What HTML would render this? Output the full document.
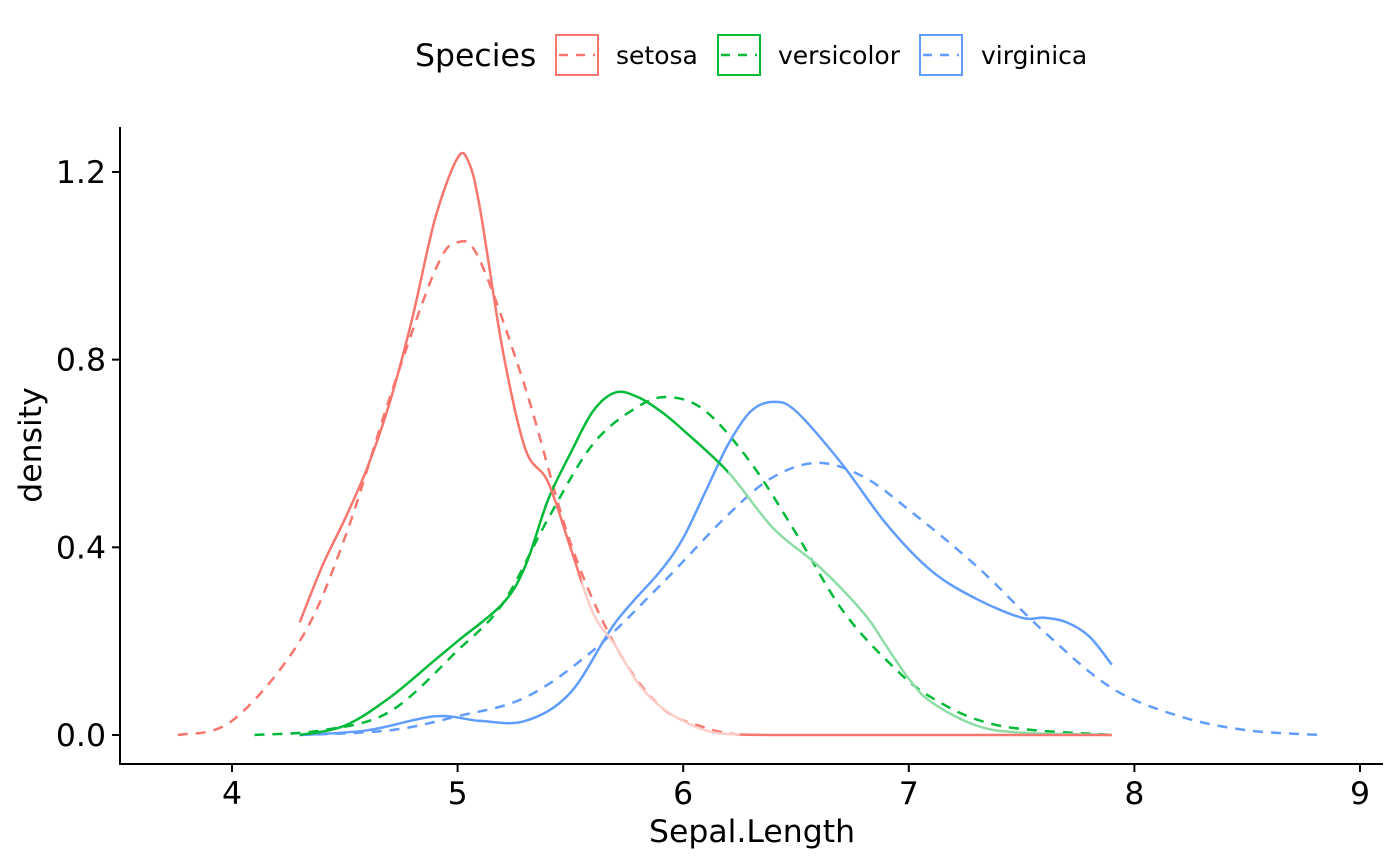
<!DOCTYPE html>
<html><head><meta charset="utf-8"><style>
html,body{margin:0;padding:0;background:#fff;}
svg{display:block;font-family:"DejaVu Sans","Liberation Sans",sans-serif;}
</style></head><body>
<svg id="chart" width="1400" height="866" viewBox="0 0 1400 866">
  <g id="legend">
    <text x="415" y="66" font-size="31.5">Species</text>
    <g>
      <rect x="556" y="35" width="42" height="40" fill="none" stroke="#F8766D" stroke-width="2"/>
      <line x1="559" y1="55" x2="595" y2="55" stroke="#F8766D" stroke-width="2.5" stroke-dasharray="9,8"/>
      <text x="616" y="64" font-size="25">setosa</text>
    </g>
    <g>
      <rect x="718" y="35" width="42" height="40" fill="none" stroke="#00BA38" stroke-width="2"/>
      <line x1="721" y1="55" x2="757" y2="55" stroke="#00BA38" stroke-width="2.5" stroke-dasharray="9,8"/>
      <text x="778" y="64" font-size="25">versicolor</text>
    </g>
    <g>
      <rect x="920" y="35" width="42" height="40" fill="none" stroke="#619CFF" stroke-width="2"/>
      <line x1="923" y1="55" x2="959" y2="55" stroke="#619CFF" stroke-width="2.5" stroke-dasharray="9,8"/>
      <text x="981" y="64" font-size="25">virginica</text>
    </g>
  </g>
  <g id="plot"></g>
  <g id="axes"></g>
  <text x="752" y="842" font-size="31.5" text-anchor="middle">Sepal.Length</text>
  <text transform="translate(41,445) rotate(-90)" font-size="31.5" text-anchor="middle">density</text>
</svg>
<script>
const xTicks = [4,5,6,7,8,9];
const yTicks = [0.0,0.4,0.8,1.2];
const yTickLabels = ["0.0","0.4","0.8","1.2"];
const setosaSolidX = [4.3,4.4,4.5,4.6,4.7,4.8,4.9,5.0,5.05,5.1,5.2,5.3,5.4,5.5,5.6,5.7,5.8,5.9,6.0,6.1,6.2,6.4,7.0,7.9];
const setosaSolidY = [0.24,0.36,0.46,0.57,0.71,0.89,1.10,1.23,1.22,1.12,0.82,0.61,0.54,0.40,0.26,0.19,0.11,0.06,0.03,0.01,0.002,0,0,0];
const setosaNormX = [3.76,4.0,4.3,4.5,4.7,4.9,5.0,5.1,5.3,5.5,5.7,5.9,6.1,6.25];
const setosaNormY = [0,0.03,0.2,0.42,0.72,0.99,1.05,1.01,0.74,0.41,0.19,0.06,0.015,0];
const versiSolidX = [4.3,4.5,4.7,4.9,5.0,5.2,5.3,5.4,5.5,5.6,5.7,5.8,5.9,6.0,6.2,6.4,6.6,6.8,6.9,7.0,7.1,7.3,7.5,7.9];
const versiSolidY = [0,0.02,0.08,0.16,0.2,0.28,0.36,0.5,0.6,0.69,0.73,0.72,0.69,0.65,0.56,0.44,0.36,0.26,0.19,0.12,0.07,0.02,0.005,0];
const versiNormX = [4.1,4.4,4.7,5.0,5.2,5.4,5.6,5.8,5.94,6.1,6.3,6.5,6.7,6.9,7.1,7.4,7.9];
const versiNormY = [0,0.01,0.05,0.18,0.28,0.46,0.62,0.70,0.72,0.69,0.58,0.43,0.27,0.16,0.08,0.02,0];
const virgSolidX = [4.3,4.6,4.9,5.1,5.3,5.5,5.7,5.9,6.0,6.1,6.2,6.3,6.4,6.5,6.7,6.9,7.1,7.3,7.5,7.6,7.7,7.8,7.9];
const virgSolidY = [0,0.01,0.04,0.03,0.03,0.09,0.24,0.35,0.42,0.52,0.62,0.69,0.71,0.69,0.58,0.45,0.35,0.29,0.25,0.25,0.24,0.21,0.15];
const virgNormX = [4.3,4.7,5.0,5.3,5.6,5.9,6.2,6.4,6.6,6.8,7.0,7.3,7.6,7.9,8.2,8.5,8.83];
const virgNormY = [0,0.01,0.04,0.08,0.18,0.32,0.47,0.55,0.58,0.55,0.48,0.36,0.22,0.1,0.04,0.01,0];

const NS="http://www.w3.org/2000/svg";
const xs = v => 232 + (v-4)*225.6;
const ys = v => 735 - v*469.2;
const plot=document.getElementById('plot'), axes=document.getElementById('axes'), svg=document.getElementById('chart');
function mk(t,a,p){const e=document.createElementNS(NS,t);for(const k in a)e.setAttribute(k,a[k]);(p||plot).appendChild(e);return e;}
function pathD(X,Y){
  const P=X.map((x,i)=>[xs(x),ys(Y[i])]);
  let d="M"+P[0][0]+","+P[0][1];
  for(let i=0;i<P.length-1;i++){
    const p0=P[Math.max(0,i-1)],p1=P[i],p2=P[i+1],p3=P[Math.min(P.length-1,i+2)];
    const c1=[p1[0]+(p2[0]-p0[0])/6,p1[1]+(p2[1]-p0[1])/6];
    const c2=[p2[0]-(p3[0]-p1[0])/6,p2[1]-(p3[1]-p1[1])/6];
    d+=" C"+c1[0]+","+c1[1]+" "+c2[0]+","+c2[1]+" "+p2[0]+","+p2[1];
  }
  return d;
}
const defs=mk('defs',{},svg);
function clip(id,x0,x1){const c=mk('clipPath',{id:id},defs);mk('rect',{x:xs(x0),y:0,width:xs(x1)-xs(x0),height:866},c);}
clip('sN1',3,5.55);clip('sF',5.55,6.25);clip('sN2',6.25,10);
clip('vN',3,6.2);clip('vF',6.2,7.9);
const lines=[
 [setosaNormX,setosaNormY,'#F8766D',true,null,'setosa-normal-line'],
 [versiNormX,versiNormY,'#00BA38',true,null,'versicolor-normal-line'],
 [virgNormX,virgNormY,'#619CFF',true,null,'virginica-normal-line'],
 [virgSolidX,virgSolidY,'#619CFF',false,null,'virginica-density-line'],
 [versiSolidX,versiSolidY,'#00BA38',false,'vN','versicolor-density-line'],
 [versiSolidX,versiSolidY,'#8EDDA6',false,'vF','versicolor-density-line-tail'],
 [setosaSolidX,setosaSolidY,'#F8766D',false,'sN1','setosa-density-line'],
 [setosaSolidX,setosaSolidY,'#FCCDC9',false,'sF','setosa-density-line-tail'],
 [setosaSolidX,setosaSolidY,'#F8766D',false,'sN2','setosa-density-line-zero'],
];
lines.forEach(L=>{
  const a={d:pathD(L[0],L[1]),fill:'none',stroke:L[2],'stroke-width':2.5};
  if(L[3])a['stroke-dasharray']='10,8';
  if(L[4])a['clip-path']='url(#'+L[4]+')';
  const e=mk('path',a);
  
  
});
mk('line',{x1:120,y1:127,x2:120,y2:765,stroke:'#000','stroke-width':2},axes);
mk('line',{x1:119,y1:764,x2:1383,y2:764,stroke:'#000','stroke-width':2},axes);
xTicks.forEach(t=>{
  mk('line',{x1:xs(t),y1:764,x2:xs(t),y2:772,stroke:'#000','stroke-width':2},axes);
  const e=mk('text',{x:xs(t),y:804,'font-size':31.5,'text-anchor':'middle',fill:'#000'},axes);
  e.textContent=t;
  
  
});
yTicks.forEach((t,i)=>{
  mk('line',{x1:112,y1:ys(t),x2:120,y2:ys(t),stroke:'#000','stroke-width':2},axes);
  const e=mk('text',{x:106,y:ys(t)+11,'font-size':31.5,'text-anchor':'end',fill:'#000'},axes);
  e.textContent=yTickLabels[i];
  
  
});
</script>
</body></html>
